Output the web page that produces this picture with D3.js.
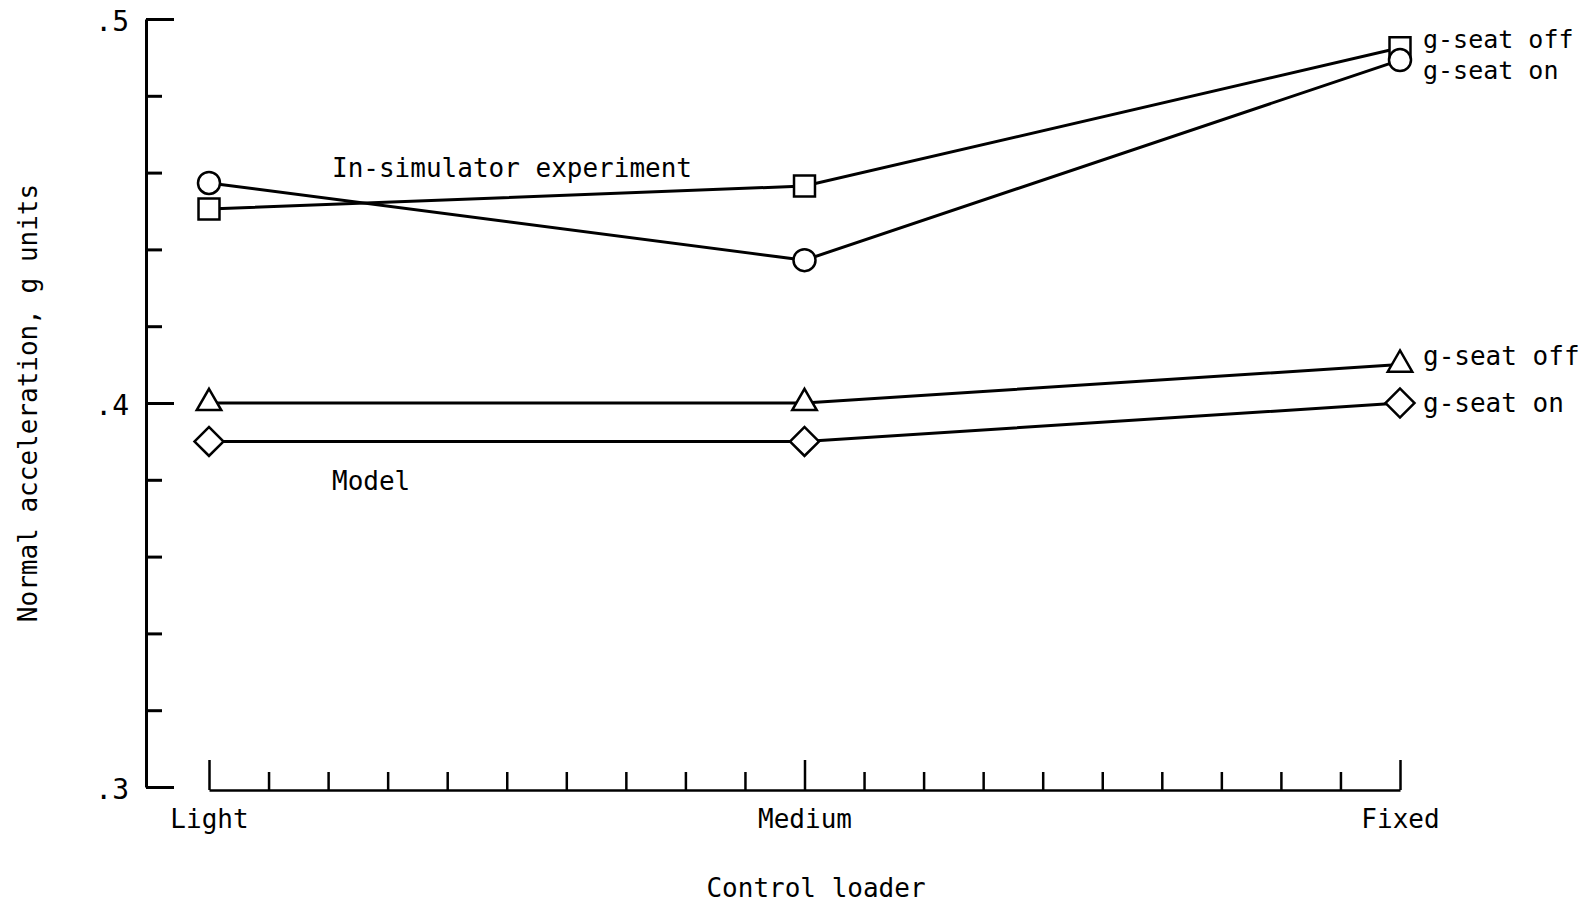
<!DOCTYPE html>
<html>
<head>
<meta charset="utf-8">
<script src="https://cdn.jsdelivr.net/npm/d3@7/dist/d3.min.js"></script>
<style>
  html, body { margin: 0; padding: 0; background: #fff; }
  svg { display: block; }
  text { font-family: "DejaVu Sans Mono", "Liberation Mono", monospace; fill: #000; }
</style>
</head>
<body>
<script>
// Control loader settings along the x axis
const categories = ["Light", "Medium", "Fixed"];

// Normal acceleration (g units) per control loader setting
const simSeatOff   = [0.4505, 0.4565, 0.4925]; // in-simulator, g-seat off (square)
const simSeatOn    = [0.4573, 0.4372, 0.4893]; // in-simulator, g-seat on (circle)
const modelSeatOff = [0.400, 0.400, 0.410];    // model, g-seat off (triangle)
const modelSeatOn  = [0.390, 0.390, 0.400];    // model, g-seat on (diamond)

// Axis ticks
const yTicks = [0.30, 0.32, 0.34, 0.36, 0.38, 0.40, 0.42, 0.44, 0.46, 0.48, 0.50];
const yTickLabels = { "0.3": ".3", "0.4": ".4", "0.5": ".5" };
const xMinorPerInterval = 10;

const seriesNames = ["g-seat off", "g-seat on", "g-seat off", "g-seat on"];
const groupLabels = ["In-simulator experiment", "Model"];
const xTitle = "Control loader";
const yTitle = "Normal acceleration, g units";

const W = 1596, H = 908;
const svg = d3.select("body").append("svg").attr("width", W).attr("height", H);

const y = d3.scaleLinear().domain([0.3, 0.5]).range([787, 19]);
const xi = d3.scaleLinear().domain([0, categories.length - 1]).range([209, 1400]);

// ---- y axis: ticks point into the plot, long ticks at labelled values
const yAxis = d3.axisLeft(y)
  .tickValues(yTicks)
  .tickSizeInner(-16)
  .tickSizeOuter(0)
  .tickPadding(17)
  .tickFormat(d => yTickLabels[String(+d.toFixed(2))] || "");
const gy = svg.append("g").attr("transform", "translate(146,0)").call(yAxis);
gy.select(".domain").attr("stroke", "#000").attr("stroke-width", 3);
gy.selectAll(".tick line").attr("stroke", "#000").attr("stroke-width", 3)
  .attr("x2", d => (yTickLabels[String(+d.toFixed(2))] ? 28 : 16));
gy.selectAll(".tick text").attr("font-size", 28).attr("fill", "#000")
  .attr("font-family", "DejaVu Sans Mono").attr("dy", "0.4em");

// ---- x axis: separate baseline with tall ticks at categories, short in between
const xTickVals = d3.range(0, (categories.length - 1) * xMinorPerInterval + 1).map(i => i / xMinorPerInterval);
const xAxis = d3.axisBottom(xi)
  .tickValues(xTickVals)
  .tickSizeInner(-18)
  .tickSizeOuter(0)
  .tickPadding(20)
  .tickFormat(d => (Number.isInteger(Math.round(d * 1000) / 1000) ? categories[Math.round(d)] : ""));
const gx = svg.append("g").attr("transform", "translate(0,790)").call(xAxis);
gx.select(".domain").attr("stroke", "#000").attr("stroke-width", 2.5);
gx.selectAll(".tick line").attr("stroke", "#000").attr("stroke-width", 2.5)
  .attr("y2", d => (Math.abs(d - Math.round(d)) < 1e-6 ? -30 : -18));
gx.selectAll(".tick text").attr("font-size", 26).attr("fill", "#000")
  .attr("font-family", "DejaVu Sans Mono");

// ---- series
const series = [
  { values: simSeatOff,   symbol: d3.symbolSquare,   size: 440, rotate: 0,  labelDy: 0,  fontSize: 25 },
  { values: simSeatOn,    symbol: d3.symbolCircle,   size: 380, rotate: 0,  labelDy: 19, fontSize: 25 },
  { values: modelSeatOff, symbol: d3.symbolTriangle, size: 260, rotate: 0,  labelDy: 0,  fontSize: 26 },
  { values: modelSeatOn,  symbol: d3.symbolSquare,   size: 420, rotate: 45, labelDy: 9,  fontSize: 26 }
];

const line = d3.line().x((d, i) => xi(i)).y(d => y(d));

series.forEach(s => {
  svg.append("path")
    .attr("d", line(s.values))
    .attr("fill", "none")
    .attr("stroke", "#000")
    .attr("stroke-width", 3);
});

series.forEach((s, k) => {
  const sym = d3.symbol().type(s.symbol).size(s.size);
  svg.append("g").selectAll("path")
    .data(s.values)
    .join("path")
    .attr("d", sym)
    .attr("transform", (d, i) => `translate(${xi(i)},${y(d)}) rotate(${s.rotate})`)
    .attr("fill", "#fff")
    .attr("stroke", "#000")
    .attr("stroke-width", 2.5);

  const last = s.values[s.values.length - 1];
  svg.append("text")
    .attr("x", 1423)
    .attr("y", y(last) + s.labelDy)
    .attr("font-size", s.fontSize)
    .text(seriesNames[k]);
});

// ---- group annotations
svg.append("text").attr("x", 332).attr("y", 177).attr("font-size", 26).text(groupLabels[0]);
svg.append("text").attr("x", 332).attr("y", 490).attr("font-size", 26).text(groupLabels[1]);

// ---- axis titles
svg.append("text")
  .attr("x", 816).attr("y", 897)
  .attr("text-anchor", "middle")
  .attr("font-size", 26)
  .text(xTitle);

svg.append("text")
  .attr("transform", "translate(37,403) rotate(-90)")
  .attr("text-anchor", "middle")
  .attr("font-size", 26)
  .text(yTitle);
</script>
</body>
</html>
